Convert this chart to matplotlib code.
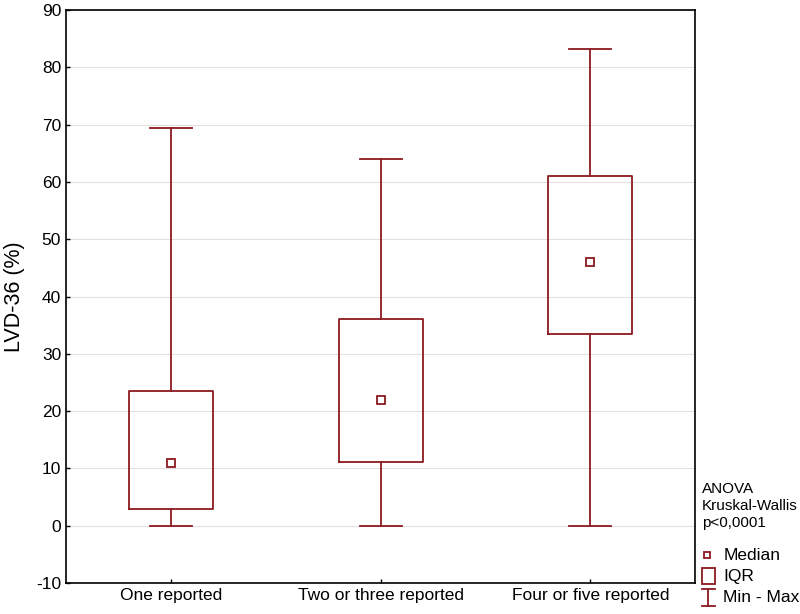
import matplotlib.pyplot as plt
from matplotlib.lines import Line2D
from matplotlib.patches import Rectangle

categories = ['One reported', 'Two or three reported', 'Four or five reported']
mins = [0, 0, 0]
q1 = [3.0, 11.2, 33.5]
medians = [11.0, 22.0, 46.0]
q3 = [23.5, 36.0, 61.0]
maxs = [69.5, 64.0, 83.3]

col = '#8b1a1f'
plt.rcParams['font.family'] = ['Liberation Sans', 'DejaVu Sans']
plt.rcParams['axes.unicode_minus'] = False

fig = plt.figure(figsize=(8, 6.14), dpi=100)
ax = fig.add_axes([0.0825, 0.0505, 0.7865, 0.933])

stats = []
for i in range(3):
    stats.append({'med': medians[i], 'q1': q1[i], 'q3': q3[i],
                  'whislo': mins[i], 'whishi': maxs[i], 'fliers': []})
ax.bxp(stats, positions=range(3), widths=0.4, showfliers=False,
       boxprops=dict(color=col, lw=1.3),
       whiskerprops=dict(color=col, lw=1.3),
       capprops=dict(color=col, lw=1.3),
       medianprops=dict(lw=0), capwidths=0.2)
ax.plot(range(3), medians, 's', ms=6, mfc='white', mec=col, mew=1.3, ls='none', zorder=5)

ax.set_xlim(-0.5, 2.5)
ax.set_ylim(-10, 90)
ax.set_yticks(range(-10, 91, 10))
ax.set_xticks(range(3))
ax.set_xticklabels(categories)
ax.yaxis.grid(True, color='#e6dfdf', lw=0.8)
ax.set_axisbelow(True)
ax.tick_params(labelsize=12.5, length=3, direction='in', width=1)
for s in ax.spines.values():
    s.set_linewidth(1.2)
ax.set_ylabel('LVD-36 (%)', fontsize=15.5, labelpad=8)

# annotation and legend outside the axes
fig.text(0.877, 1 - 506 / 614, 'ANOVA\nKruskal-Wallis\np<0,0001', fontsize=11,
         va='center', ha='left', linespacing=1.3)
fig.add_artist(Line2D([0.884], [1 - 555 / 614], marker='s', ms=5, mfc='white',
                      mec=col, mew=1.3, transform=fig.transFigure))
fig.add_artist(Rectangle((0.8775, 1 - 584 / 614), 0.016, 0.026, fill=False,
                         ec=col, lw=1.3, transform=fig.transFigure))
xm = 0.8855
fig.add_artist(Line2D([xm, xm], [1 - 606 / 614, 1 - 589 / 614], color=col, lw=1.3,
                      transform=fig.transFigure))
fig.add_artist(Line2D([xm - 0.008, xm + 0.008], [1 - 606 / 614] * 2, color=col, lw=1.3,
                      transform=fig.transFigure))
fig.add_artist(Line2D([xm - 0.008, xm + 0.008], [1 - 589 / 614] * 2, color=col, lw=1.3,
                      transform=fig.transFigure))
fig.text(0.904, 1 - 555 / 614, 'Median', fontsize=12.5, va='center')
fig.text(0.904, 1 - 576 / 614, 'IQR', fontsize=12.5, va='center')
fig.text(0.904, 1 - 598 / 614, 'Min - Max', fontsize=12.5, va='center')

fig.savefig('out.png', dpi=100)
